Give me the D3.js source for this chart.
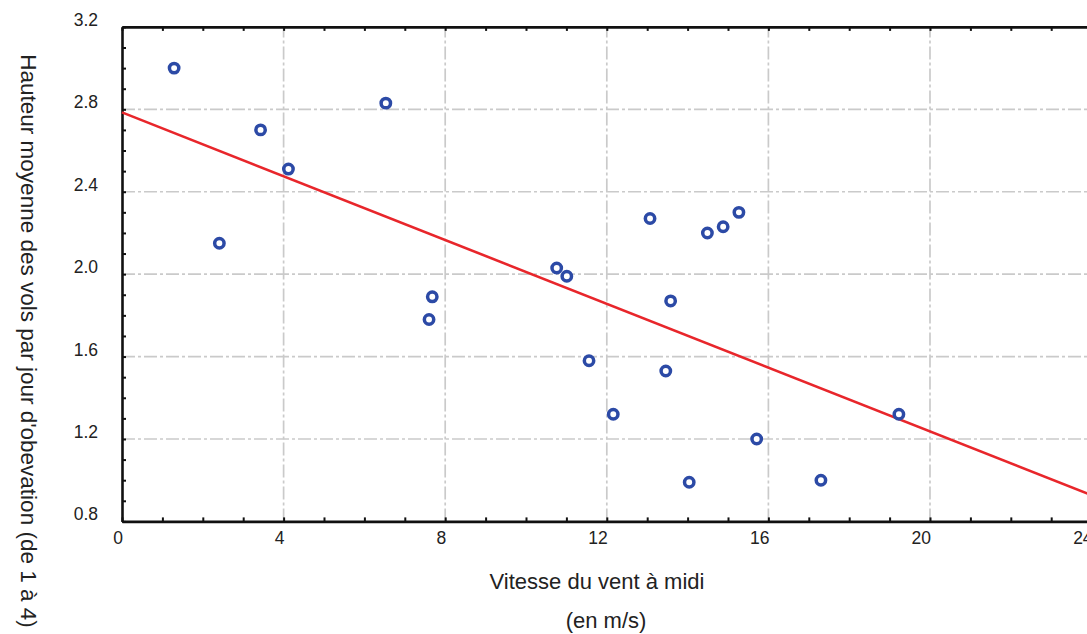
<!DOCTYPE html>
<html>
<head>
<meta charset="utf-8">
<script src="https://cdn.jsdelivr.net/npm/d3@7"></script>
<style>
  body { margin: 0; background: #fff; }
  svg { display: block; font-family: "Liberation Sans", Arial, sans-serif; }
</style>
</head>
<body>
<div id="chart"></div>
<script>
// wind speed at noon (m/s) vs mean flight height per day (1 to 4)
var windSpeed    = [1.29, 3.43, 4.12, 2.41, 6.53, 7.68, 7.60, 10.76, 11.01, 11.56, 12.16,
                    13.07, 13.58, 13.46, 14.04, 14.49, 14.88, 15.27, 15.71, 17.30, 19.23];
var flightHeight = [3.00, 2.70, 2.51, 2.15, 2.83, 1.89, 1.78, 2.03, 1.99, 1.58, 1.32,
                    2.27, 1.87, 1.53, 0.99, 2.20, 2.23, 2.30, 1.20, 1.00, 1.32];

// fitted line at both ends
var fitX = [0, 24];
var fitY = [2.785, 0.927];

var xTicks = [0, 4, 8, 12, 16, 20, 24];
var yTicks = [0.8, 1.2, 1.6, 2.0, 2.4, 2.8, 3.2];

var width = 1087, height = 634;

var svg = d3.select("#chart")
    .append("svg")
    .attr("width", width)
    .attr("height", height);

var x = d3.scaleLinear().domain([0, 24]).range([122, 1091.6]);
var y = d3.scaleLinear().domain([0.8, 3.2]).range([521.4, 26.9]);

// grid
var grid = svg.append("g")
    .attr("stroke", "#cacaca")
    .attr("stroke-width", 1.7)
    .attr("stroke-dasharray", "13,3,3,3");

grid.selectAll(".vg")
    .data(xTicks.slice(1, -1))
    .join("line")
    .attr("x1", d => x(d)).attr("x2", d => x(d))
    .attr("y1", y(0.8)).attr("y2", y(3.2));

grid.selectAll(".hg")
    .data(yTicks.slice(1, -1))
    .join("line")
    .attr("x1", x(0)).attr("x2", x(24))
    .attr("y1", d => y(d)).attr("y2", d => y(d));

// axes (ticks point inward)
function styleAxis(g) {
    g.select(".domain").attr("stroke", "#111").attr("stroke-width", 2.6);
    g.selectAll(".tick line").attr("stroke", "#111").attr("stroke-width", 2);
    g.selectAll(".tick text").remove();
}

svg.append("g")
    .attr("transform", "translate(0," + y(0.8) + ")")
    .call(d3.axisBottom(x).ticks(24).tickSizeInner(-4).tickSizeOuter(0))
    .call(styleAxis);

svg.append("g")
    .attr("transform", "translate(0," + y(3.2) + ")")
    .call(d3.axisTop(x).ticks(24).tickSizeInner(-4).tickSizeOuter(0))
    .call(styleAxis);

svg.append("g")
    .attr("transform", "translate(" + x(0) + ",0)")
    .call(d3.axisLeft(y).ticks(24).tickSizeInner(-4).tickSizeOuter(0))
    .call(styleAxis);

// tick labels
svg.append("g")
    .selectAll("text")
    .data(xTicks)
    .join("text")
    .attr("x", d => x(d) + 1)
    .attr("y", 544)
    .attr("text-anchor", "end")
    .attr("fill", "#222")
    .style("font-size", "17.5px")
    .text(d => d);

svg.append("g")
    .selectAll("text")
    .data(yTicks)
    .join("text")
    .attr("x", 98)
    .attr("y", d => y(d) - 1)
    .attr("text-anchor", "end")
    .attr("fill", "#222")
    .style("font-size", "17.5px")
    .text(d => d.toFixed(1));

// fitted line
svg.append("line")
    .attr("x1", x(fitX[0])).attr("y1", y(fitY[0]))
    .attr("x2", x(fitX[1])).attr("y2", y(fitY[1]))
    .attr("stroke", "#e8262b")
    .attr("stroke-width", 2.6);

// points
svg.append("g")
    .selectAll("circle")
    .data(windSpeed)
    .join("circle")
    .attr("cx", d => x(d))
    .attr("cy", (d, i) => y(flightHeight[i]))
    .attr("r", 4.7)
    .attr("fill", "#fff")
    .attr("stroke", "#2c4aa6")
    .attr("stroke-width", 3.5);

// axis titles
svg.append("text")
    .attr("x", 597)
    .attr("y", 589)
    .attr("text-anchor", "middle")
    .attr("fill", "#222")
    .style("font-size", "22px")
    .text("Vitesse du vent à midi");

svg.append("text")
    .attr("x", 606)
    .attr("y", 628)
    .attr("text-anchor", "middle")
    .attr("fill", "#222")
    .style("font-size", "22px")
    .text("(en m/s)");

svg.append("text")
    .attr("transform", "translate(21,341) rotate(90)")
    .attr("text-anchor", "middle")
    .attr("fill", "#222")
    .style("font-size", "22.5px")
    .text("Hauteur moyenne des vols par jour d'obevation (de 1 à 4)");
</script>
</body>
</html>
